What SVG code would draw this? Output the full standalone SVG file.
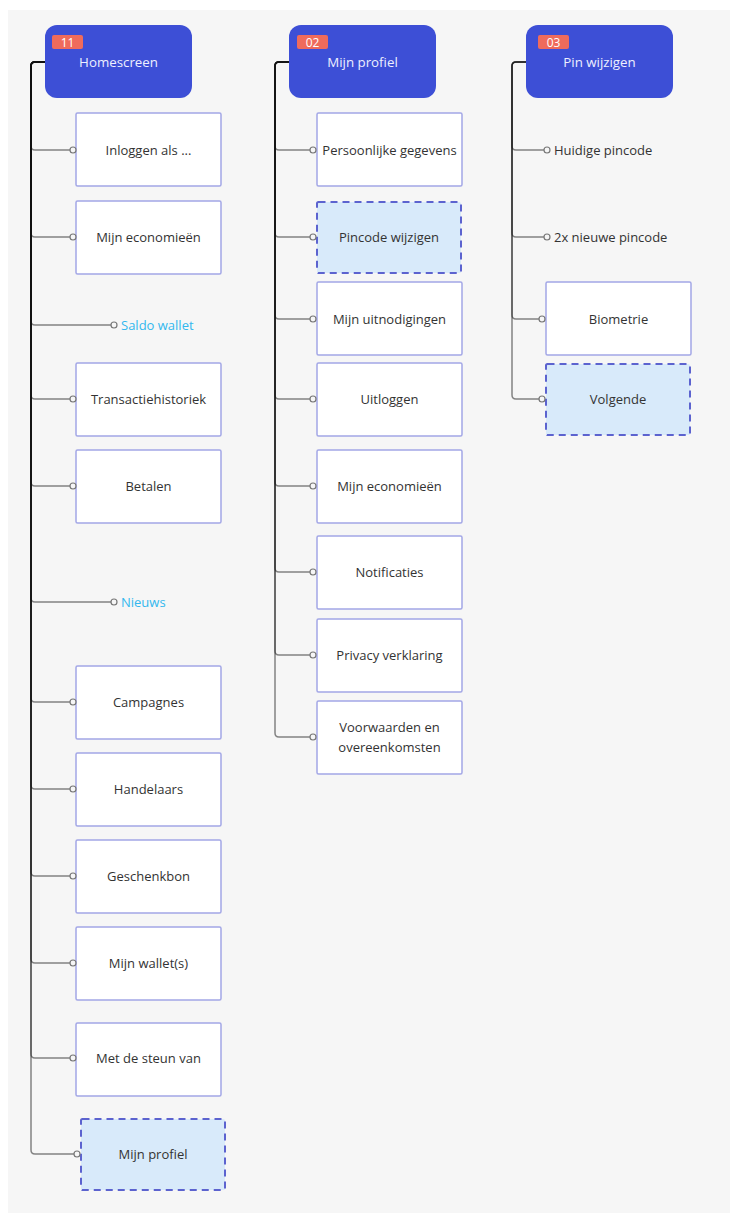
<svg xmlns="http://www.w3.org/2000/svg" width="730" height="1213" viewBox="0 0 730 1213">
<style>
.hdr{fill:#3d4fd6}
.badge{fill:#ef6b5c}
.bt{font-family:"Open Sans","Liberation Sans",sans-serif;font-size:12px;fill:#ffffff;text-anchor:middle}
.ht{font-family:"Open Sans","Liberation Sans",sans-serif;font-size:13.3px;fill:#eef0ff;text-anchor:middle}
.box{fill:#ffffff;stroke:#a3a7e6;stroke-width:1.5}
.dbox{fill:#d8eafa;stroke:#5c63cf;stroke-width:2;stroke-dasharray:7 5}
.t{font-family:"Open Sans","Liberation Sans",sans-serif;font-size:13px;fill:#333333;text-anchor:middle}
.tl{font-family:"Open Sans","Liberation Sans",sans-serif;font-size:13px;fill:#333333}
.tb{font-family:"Open Sans","Liberation Sans",sans-serif;font-size:13px;fill:#33b8ee}
.c{fill:none;stroke:#111111;stroke-opacity:0.5;stroke-width:1.5}
.dot{fill:#f6f6f6;stroke:#777777;stroke-width:1.2}
</style>
<rect x="8" y="10" width="722" height="1203" fill="#f6f6f6"/>
<g id="connectors">
<path class="c" d="M45,62 H35 Q31,62 31,66 V146 Q31,150 35,150 H70"/>
<path class="c" d="M45,62 H35 Q31,62 31,66 V233 Q31,237 35,237 H70"/>
<path class="c" d="M45,62 H35 Q31,62 31,66 V321 Q31,325 35,325 H111"/>
<path class="c" d="M45,62 H35 Q31,62 31,66 V395 Q31,399 35,399 H70"/>
<path class="c" d="M45,62 H35 Q31,62 31,66 V482 Q31,486 35,486 H70"/>
<path class="c" d="M45,62 H35 Q31,62 31,66 V598 Q31,602 35,602 H111"/>
<path class="c" d="M45,62 H35 Q31,62 31,66 V698 Q31,702 35,702 H70"/>
<path class="c" d="M45,62 H35 Q31,62 31,66 V785 Q31,789 35,789 H70"/>
<path class="c" d="M45,62 H35 Q31,62 31,66 V872 Q31,876 35,876 H70"/>
<path class="c" d="M45,62 H35 Q31,62 31,66 V959 Q31,963 35,963 H70"/>
<path class="c" d="M45,62 H35 Q31,62 31,66 V1054 Q31,1058 35,1058 H70"/>
<path class="c" d="M45,62 H35 Q31,62 31,66 V1150 Q31,1154 35,1154 H74"/>
<path class="c" d="M290,62 H279 Q275,62 275,66 V146 Q275,150 279,150 H310"/>
<path class="c" d="M290,62 H279 Q275,62 275,66 V233 Q275,237 279,237 H310"/>
<path class="c" d="M290,62 H279 Q275,62 275,66 V315 Q275,319 279,319 H310"/>
<path class="c" d="M290,62 H279 Q275,62 275,66 V395 Q275,399 279,399 H310"/>
<path class="c" d="M290,62 H279 Q275,62 275,66 V482 Q275,486 279,486 H310"/>
<path class="c" d="M290,62 H279 Q275,62 275,66 V568 Q275,572 279,572 H310"/>
<path class="c" d="M290,62 H279 Q275,62 275,66 V651 Q275,655 279,655 H310"/>
<path class="c" d="M290,62 H279 Q275,62 275,66 V733 Q275,737 279,737 H310"/>
<path class="c" d="M526,62 H516 Q512,62 512,66 V146 Q512,150 516,150 H544"/>
<path class="c" d="M526,62 H516 Q512,62 512,66 V233 Q512,237 516,237 H544"/>
<path class="c" d="M526,62 H516 Q512,62 512,66 V315 Q512,319 516,319 H539"/>
<path class="c" d="M526,62 H516 Q512,62 512,66 V395 Q512,399 516,399 H539"/>
</g>
<g id="n-homescreen">
<rect class="hdr" x="45" y="25" width="147" height="73" rx="12"/>
<rect class="badge" x="52" y="35" width="31" height="14" rx="2"/>
<text class="bt" x="67.5" y="46.5">11</text>
<text class="ht" x="118.5" y="66.5">Homescreen</text>
</g>
<g id="n-inloggen"><rect class="box" x="76" y="113" width="145" height="73" rx="1.5"/><circle class="dot" cx="73" cy="150" r="3"/><text class="t" x="148.5" y="154.5">Inloggen als ...</text></g>
<g id="n-economieen1"><rect class="box" x="76" y="201" width="145" height="73" rx="1.5"/><circle class="dot" cx="73" cy="237" r="3"/><text class="t" x="148.5" y="241.5">Mijn economieën</text></g>
<g id="n-saldo"><circle class="dot" cx="114" cy="325" r="3"/><text class="tb" x="121" y="329.5">Saldo wallet</text></g>
<g id="n-transactie"><rect class="box" x="76" y="363" width="145" height="73" rx="1.5"/><circle class="dot" cx="73" cy="399" r="3"/><text class="t" x="148.5" y="403.5">Transactiehistoriek</text></g>
<g id="n-betalen"><rect class="box" x="76" y="450" width="145" height="73" rx="1.5"/><circle class="dot" cx="73" cy="486" r="3"/><text class="t" x="148.5" y="490.5">Betalen</text></g>
<g id="n-nieuws"><circle class="dot" cx="114" cy="602" r="3"/><text class="tb" x="121" y="606.5">Nieuws</text></g>
<g id="n-campagnes"><rect class="box" x="76" y="666" width="145" height="73" rx="1.5"/><circle class="dot" cx="73" cy="702" r="3"/><text class="t" x="148.5" y="706.5">Campagnes</text></g>
<g id="n-handelaars"><rect class="box" x="76" y="753" width="145" height="73" rx="1.5"/><circle class="dot" cx="73" cy="789" r="3"/><text class="t" x="148.5" y="793.5">Handelaars</text></g>
<g id="n-geschenkbon"><rect class="box" x="76" y="840" width="145" height="73" rx="1.5"/><circle class="dot" cx="73" cy="876" r="3"/><text class="t" x="148.5" y="880.5">Geschenkbon</text></g>
<g id="n-wallets"><rect class="box" x="76" y="927" width="145" height="73" rx="1.5"/><circle class="dot" cx="73" cy="963" r="3"/><text class="t" x="148.5" y="967.5">Mijn wallet(s)</text></g>
<g id="n-steun"><rect class="box" x="76" y="1023" width="145" height="73" rx="1.5"/><circle class="dot" cx="73" cy="1058" r="3"/><text class="t" x="148.5" y="1062.5">Met de steun van</text></g>
<g id="n-mijnprofiel1"><rect class="dbox" x="81" y="1119" width="144" height="71" rx="1.5"/><circle class="dot" cx="77" cy="1154" r="3"/><text class="t" x="153" y="1158.5">Mijn profiel</text></g>
<g id="n-mijnprofiel">
<rect class="hdr" x="289" y="25" width="147" height="73" rx="12"/>
<rect class="badge" x="297" y="35" width="31" height="14" rx="2"/>
<text class="bt" x="312.5" y="46.5">02</text>
<text class="ht" x="362.5" y="66.5">Mijn profiel</text>
</g>
<g id="n-persoonlijk"><rect class="box" x="317" y="113" width="145" height="73" rx="1.5"/><circle class="dot" cx="313" cy="150" r="3"/><text class="t" x="389.5" y="154.5">Persoonlijke gegevens</text></g>
<g id="n-pincode"><rect class="dbox" x="317" y="202" width="144" height="71" rx="1.5"/><circle class="dot" cx="313" cy="237" r="3"/><text class="t" x="389" y="241.5">Pincode wijzigen</text></g>
<g id="n-uitnodigingen"><rect class="box" x="317" y="282" width="145" height="73" rx="1.5"/><circle class="dot" cx="313" cy="319" r="3"/><text class="t" x="389.5" y="323.5">Mijn uitnodigingen</text></g>
<g id="n-uitloggen"><rect class="box" x="317" y="363" width="145" height="73" rx="1.5"/><circle class="dot" cx="313" cy="399" r="3"/><text class="t" x="389.5" y="403.5">Uitloggen</text></g>
<g id="n-economieen2"><rect class="box" x="317" y="450" width="145" height="73" rx="1.5"/><circle class="dot" cx="313" cy="486" r="3"/><text class="t" x="389.5" y="490.5">Mijn economieën</text></g>
<g id="n-notificaties"><rect class="box" x="317" y="536" width="145" height="73" rx="1.5"/><circle class="dot" cx="313" cy="572" r="3"/><text class="t" x="389.5" y="576.5">Notificaties</text></g>
<g id="n-privacy"><rect class="box" x="317" y="619" width="145" height="73" rx="1.5"/><circle class="dot" cx="313" cy="655" r="3"/><text class="t" x="389.5" y="659.5">Privacy verklaring</text></g>
<g id="n-voorwaarden"><rect class="box" x="317" y="701" width="145" height="73" rx="1.5"/><circle class="dot" cx="313" cy="737" r="3"/><text class="t" x="389.5" y="731.5">Voorwaarden en</text><text class="t" x="389.5" y="751.5">overeenkomsten</text></g>
<g id="n-pinwijzigen">
<rect class="hdr" x="526" y="25" width="147" height="73" rx="12"/>
<rect class="badge" x="538" y="35" width="31" height="14" rx="2"/>
<text class="bt" x="553.5" y="46.5">03</text>
<text class="ht" x="599.5" y="66.5">Pin wijzigen</text>
</g>
<g id="n-huidige"><circle class="dot" cx="547" cy="150" r="3"/><text class="tl" x="554" y="154.5">Huidige pincode</text></g>
<g id="n-nieuwe"><circle class="dot" cx="547" cy="237" r="3"/><text class="tl" x="554" y="241.5">2x nieuwe pincode</text></g>
<g id="n-biometrie"><rect class="box" x="546" y="282" width="145" height="73" rx="1.5"/><circle class="dot" cx="542" cy="319" r="3"/><text class="t" x="618.5" y="323.5">Biometrie</text></g>
<g id="n-volgende"><rect class="dbox" x="546" y="364" width="144" height="71" rx="1.5"/><circle class="dot" cx="542" cy="399" r="3"/><text class="t" x="618" y="403.5">Volgende</text></g>
</svg>
